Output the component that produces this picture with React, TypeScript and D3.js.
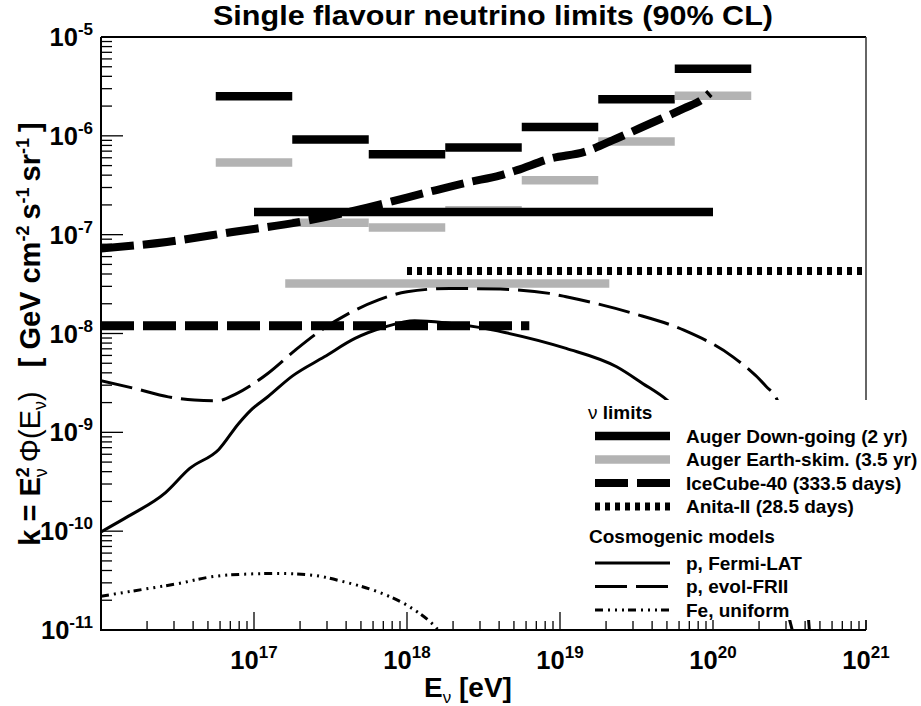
import * as d3 from 'd3';

// axis ranges
const energyRange: [number, number] = [1e16, 1e21];
const fluxRange: [number, number] = [1e-11, 1e-5];

// half-decade bins (log10 E in eV) for the Auger differential limits
const binEdgesLog = [16.75, 17.25, 17.75, 18.25, 18.75, 19.25, 19.75, 20.25];
const augerDownGoingDiff = [2.52e-6, 9.2e-7, 6.5e-7, 7.6e-7, 1.23e-6, 2.35e-6, 4.78e-6];
const augerEarthSkimDiff = [5.37e-7, 1.32e-7, 1.18e-7, 1.77e-7, 3.56e-7, 8.77e-7, 2.54e-6];

// integrated limits: [Emin, Emax, k]
const augerDownGoingInt: [number, number, number] = [1e17, 1e20, 1.7e-7];
const augerEarthSkimInt: [number, number, number] = [1.6e17, 2.1e19, 3.2e-8];
const iceCube40Int: [number, number, number] = [1e16, 6.3e18, 1.2e-8];
const anita2Int: [number, number, number] = [1e18, 1e21, 4.3e-8];

// curves as [log10 E, log10 k]
const iceCube40Diff: [number, number][] = [
  [16.0, -7.14], [16.43, -7.074], [16.86, -6.973], [17.3, -6.871], [17.74, -6.726],
  [18.17, -6.557], [18.4, -6.47], [18.61, -6.4], [18.72, -6.347], [18.94, -6.229],
  [19.16, -6.162], [19.37, -6.027], [19.59, -5.875], [19.81, -5.722], [19.94, -5.621],
  [19.98, -5.567],
];
const fermiLAT: [number, number][] = [
  [16.0, -10.007], [16.18, -9.848], [16.42, -9.612], [16.58, -9.365], [16.77, -9.173],
  [16.9, -8.91], [16.98, -8.775], [17.09, -8.64], [17.25, -8.431], [17.46, -8.236],
  [17.66, -8.05], [17.86, -7.932], [18.05, -7.871], [18.25, -7.892], [18.47, -7.938],
  [18.64, -7.99], [19.04, -8.151], [19.37, -8.337], [19.54, -8.505], [19.7, -8.674],
  [19.9, -9.0], [20.1, -9.4], [20.31, -9.94], [20.45, -10.6], [20.55, -11.2],
];
const evolFRII: [number, number][] = [
  [16.0, -8.478], [16.22, -8.556], [16.44, -8.641], [16.61, -8.674], [16.76, -8.681],
  [16.88, -8.613], [17.09, -8.404], [17.27, -8.168], [17.44, -7.966], [17.62, -7.797],
  [17.81, -7.662], [18.0, -7.578], [18.28, -7.544], [18.61, -7.551], [18.93, -7.594],
  [19.04, -7.628], [19.48, -7.797], [19.81, -7.966], [20.13, -8.236], [20.35, -8.54],
  [20.42, -8.674], [20.5, -9.2], [20.58, -10.1], [20.64, -11.2],
];
const feUniform: [number, number][] = [
  [16.0, -10.658], [16.27, -10.59], [16.51, -10.529], [16.72, -10.462], [16.94, -10.435],
  [17.16, -10.428], [17.38, -10.445], [17.59, -10.513], [17.81, -10.614], [18.01, -10.759],
  [18.19, -10.975], [18.26, -11.1],
];

const xLabelExponents = [17, 18, 19, 20, 21];
const yLabelExponents = [-5, -6, -7, -8, -9, -10, -11];

const limitLegend = [
  'Auger Down-going (2 yr)',
  'Auger Earth-skim. (3.5 yr)',
  'IceCube-40 (333.5 days)',
  'Anita-II (28.5 days)',
];
const modelLegend = ['p, Fermi-LAT', 'p, evol-FRII', 'Fe, uniform'];

const W = 921;
const H = 706;
const L = 101, R = 866, T = 37, B = 630;
const GRAY = '#b3b3b3';
const FONT = '"Liberation Sans", Arial, Helvetica, sans-serif';

const x = d3.scaleLog().domain(energyRange).range([L, R]);
const y = d3.scaleLog().domain(fluxRange).range([B, T]);

const curve = d3
  .line<[number, number]>()
  .x((d) => x(10 ** d[0]))
  .y((d) => y(10 ** d[1]))
  .curve(d3.curveMonotoneX);

const isMajor = (v: number) => Math.abs(Math.log10(v) - Math.round(Math.log10(v))) < 1e-6;

const dash = {
  ice: '33,9',
  anita: '5,5',
  frii: '32,9',
  fe: '8,5,2,5,2,5,2,4',
};

function HBar({ seg, color, width, dashArray }: { seg: [number, number, number]; color: string; width: number; dashArray?: string }) {
  return (
    <line
      x1={x(seg[0])}
      x2={x(seg[1])}
      y1={y(seg[2])}
      y2={y(seg[2])}
      stroke={color}
      strokeWidth={width}
      strokeDasharray={dashArray}
    />
  );
}

export default function App() {
  const xt = x.ticks();
  const yt = y.ticks();
  const legendX1 = 595;
  const legendX2 = 670;
  const textX = 686;
  const limitY = [436, 459.5, 483, 506.5];
  const modelY = [563, 586.5, 610];

  return (
    <svg
      width={W}
      height={H}
      style={{ position: 'absolute', left: 0, top: 0, background: '#fff' }}
      fontFamily={FONT}
    >
      <defs>
        <clipPath id="plot">
          <rect x={L} y={T} width={R - L} height={B - T} />
        </clipPath>
      </defs>
      <rect width={W} height={H} fill="#fff" />

      <g clipPath="url(#plot)" fill="none">
        {/* Auger differential bins */}
        {augerDownGoingDiff.map((v, i) => (
          <HBar key={'dg' + i} seg={[10 ** binEdgesLog[i], 10 ** binEdgesLog[i + 1], v]} color="#000" width={8.5} />
        ))}
        {augerEarthSkimDiff.map((v, i) => (
          <HBar key={'es' + i} seg={[10 ** binEdgesLog[i], 10 ** binEdgesLog[i + 1], v]} color={GRAY} width={8.5} />
        ))}
        <HBar seg={augerDownGoingInt} color="#000" width={8.5} />
        <HBar seg={augerEarthSkimInt} color={GRAY} width={8.5} />
        <HBar seg={iceCube40Int} color="#000" width={9} dashArray={dash.ice} />
        <HBar seg={anita2Int} color="#000" width={8} dashArray={dash.anita} />

        <path d={curve(iceCube40Diff) ?? ''} stroke="#000" strokeWidth={8} strokeDasharray={dash.ice} />
        <path d={curve(fermiLAT) ?? ''} stroke="#000" strokeWidth={3} />
        <path d={curve(evolFRII) ?? ''} stroke="#000" strokeWidth={3} strokeDasharray={dash.frii} />
        <path d={curve(feUniform) ?? ''} stroke="#000" strokeWidth={3} strokeDasharray={dash.fe} />
      </g>

      {/* frame */}
      <line x1={L} x2={R} y1={T} y2={T} stroke="#000" strokeWidth={2} />
      <line x1={R} x2={R} y1={T} y2={B} stroke="#333" strokeWidth={1.5} />
      <line x1={L} x2={L} y1={T} y2={B + 1} stroke="#000" strokeWidth={2} />
      <line x1={L - 1} x2={R} y1={B} y2={B} stroke="#000" strokeWidth={2} />

      {/* ticks */}
      {xt.map((t, i) => (
        <line key={'xt' + i} x1={x(t)} x2={x(t)} y1={B} y2={B - (isMajor(t) ? 18 : 9)} stroke="#000" strokeWidth={1.3} />
      ))}
      {yt.map((t, i) => (
        <line key={'yt' + i} x1={L} x2={L + (isMajor(t) ? 22 : 11)} y1={y(t)} y2={y(t)} stroke="#000" strokeWidth={1.3} />
      ))}

      {/* tick labels */}
      {xLabelExponents.map((e) => (
        <text key={'xl' + e} x={x(10 ** e)} y={669} textAnchor="middle" fontWeight="bold" fontSize={25.5}>
          10<tspan fontSize={17} dy={-11}>{e}</tspan>
        </text>
      ))}
      {yLabelExponents.map((e) => (
        <text key={'yl' + e} x={93} y={y(10 ** e) + 9} textAnchor="end" fontWeight="bold" fontSize={25.5}>
          10<tspan fontSize={17} dy={-11}>{e}</tspan>
        </text>
      ))}

      {/* title */}
      <text x={493} y={25} textAnchor="middle" fontWeight="bold" fontSize={28} textLength={560} lengthAdjust="spacingAndGlyphs">
        Single flavour neutrino limits (90% CL)
      </text>

      {/* x title */}
      <text x={468} y={697} textAnchor="middle" fontWeight="bold" fontSize={28}>
        E<tspan fontSize={17} fontWeight="normal" dy={6}>ν</tspan>
        <tspan dy={-6}> [eV]</tspan>
      </text>

      {/* y title */}
      <text transform="translate(40,334) rotate(-90)" textAnchor="middle" fontWeight="bold" fontSize={29}>
        k = E<tspan fontSize={18} dy={-11}>2</tspan>
        <tspan fontSize={18} fontWeight="normal" dx={-10} dy={18}>ν</tspan>
        <tspan fontWeight="normal" dx={6} dy={-7}>Φ(E</tspan>
        <tspan fontSize={18} fontWeight="normal" dy={6}>ν</tspan>
        <tspan fontWeight="normal" dy={-6}>)</tspan>
        <tspan dx={24}>[ GeV cm</tspan>
        <tspan fontSize={18} dy={-11}>-2</tspan>
        <tspan dx={6} dy={11}>s</tspan>
        <tspan fontSize={18} dy={-11}>-1</tspan>
        <tspan dx={6} dy={11}>sr</tspan>
        <tspan fontSize={18} dy={-11}>-1</tspan>
        <tspan dx={6} dy={11}>]</tspan>
      </text>

      {/* legend */}
      <rect x={584} y={400} width={306} height={220} fill="#fff" />
      <text x={588} y={419} fontSize={19} fontWeight="bold">
        <tspan fontWeight="normal">ν</tspan> limits
      </text>
      {limitLegend.map((s, i) => {
        const ly = limitY[i];
        const stroke = i === 1 ? GRAY : '#000';
        const sw = i === 0 || i === 1 ? 8.5 : 8;
        const da = i === 2 ? dash.ice : i === 3 ? dash.anita : undefined;
        return (
          <g key={'ll' + i}>
            <line x1={legendX1} x2={legendX2} y1={ly} y2={ly} stroke={stroke} strokeWidth={sw} strokeDasharray={da} />
            <text x={textX} y={ly + 6.5} fontSize={19} fontWeight="bold">{s}</text>
          </g>
        );
      })}
      <text x={589} y={543} fontSize={19} fontWeight="bold">Cosmogenic models</text>
      {modelLegend.map((s, i) => {
        const ly = modelY[i];
        const da = i === 1 ? dash.frii : i === 2 ? dash.fe : undefined;
        return (
          <g key={'ml' + i}>
            <line x1={legendX1} x2={legendX2} y1={ly} y2={ly} stroke="#000" strokeWidth={3} strokeDasharray={da} />
            <text x={textX} y={ly + 6.5} fontSize={19} fontWeight="bold">{s}</text>
          </g>
        );
      })}
    </svg>
  );
}
